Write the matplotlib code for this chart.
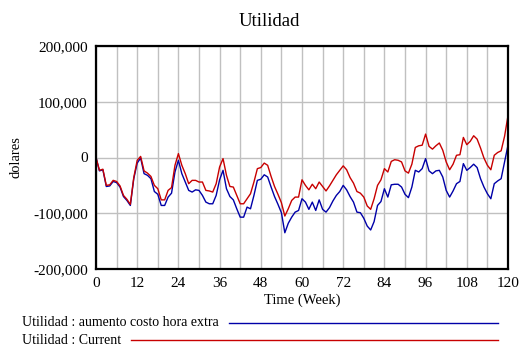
import matplotlib
matplotlib.use("Agg")
import matplotlib.pyplot as plt
from matplotlib.lines import Line2D
from matplotlib.ticker import FuncFormatter, MultipleLocator

# datos (miles de dolares, semana 0..120)
weeks = list(range(121))
aumento_costo = [
    0, -24, -22, -52, -51, -43, -45, -53, -70, -77,
    -86, -38, -10, -1, -29, -32, -38, -61, -66, -86,
    -86, -71, -64, -26, -5, -29, -44, -59, -62, -58,
    -59, -68, -80, -83, -83, -68, -40, -23, -56, -70,
    -76, -92, -107, -107, -89, -92, -68, -41, -39, -31,
    -35, -53, -70, -84, -99, -135, -118, -107, -98, -95,
    -74, -80, -93, -80, -95, -76, -93, -98, -90, -78,
    -68, -61, -50, -58, -70, -80, -98, -99, -109, -123,
    -130, -115, -86, -79, -56, -71, -49, -48, -48, -53,
    -66, -72, -53, -23, -26, -20, -2, -24, -29, -24,
    -23, -35, -59, -71, -60, -47, -43, -11, -23, -18,
    -12, -18, -38, -53, -65, -74, -47, -42, -38, -8,
    22,
]
current = [
    0, -23, -21, -50, -49, -41, -43, -51, -68, -75,
    -84, -36, -5, 2, -24, -28, -34, -50, -56, -76,
    -76, -59, -54, -14, 7, -14, -29, -47, -41, -41,
    -44, -44, -59, -60, -62, -47, -17, -2, -32, -52,
    -53, -68, -83, -83, -74, -65, -44, -20, -18, -10,
    -14, -34, -52, -66, -81, -105, -92, -77, -71, -71,
    -40, -50, -58, -48, -56, -44, -52, -60, -51, -41,
    -31, -23, -15, -22, -36, -46, -61, -64, -71, -87,
    -93, -74, -50, -40, -20, -26, -7, -4, -5, -8,
    -24, -28, -12, 18, 21, 22, 42, 20, 15, 21,
    26, 13, -8, -22, -12, 4, 5, 36, 23, 29,
    39, 33, 17, -1, -14, -22, 4, 9, 12, 38,
    75,
]
aumento_costo = [v * 1000 for v in aumento_costo]
current = [v * 1000 for v in current]

azul = "#0000a8"
rojo = "#c80000"

plt.rcParams["font.family"] = ["Liberation Serif", "DejaVu Serif"]

fig = plt.figure(figsize=(5.25, 3.59), dpi=100)
ax = fig.add_axes([96 / 525, 1 - 269 / 359, 412 / 525, 223 / 359])

ax.plot(weeks, aumento_costo, color=azul, lw=1.0)
ax.plot(weeks, current, color=rojo, lw=1.0)

ax.set_xlim(0, 120)
ax.set_ylim(-200000, 200000)
ax.xaxis.set_major_locator(MultipleLocator(12))
ax.xaxis.set_minor_locator(MultipleLocator(6))
ax.yaxis.set_major_locator(MultipleLocator(100000))
ax.yaxis.set_major_formatter(FuncFormatter(lambda v, p: f"{int(v):,}"))
ax.grid(True, which="both", axis="x", color="#c0c0c0", lw=1.0)
ax.grid(True, which="major", axis="y", color="#c0c0c0", lw=1.0)
ax.set_axisbelow(True)
ax.tick_params(which="both", length=0, labelsize=11, pad=6)
for s in ax.spines.values():
    s.set_color("black")
    s.set_linewidth(1.6)

fig.text(269 / 525, 1 - 22 / 359, "Utilidad", fontsize=13.5, ha="center", va="center")
ax.set_xlabel("Time (Week)", fontsize=10.5, labelpad=2)
fig.text(16 / 525, 1 - 157 / 359, "dolares", fontsize=10.5, rotation=90, ha="center", va="center")

# leyenda estilo Vensim debajo del grafico
fig.text(22 / 525, 1 - 323 / 359, "Utilidad : aumento costo hora extra", fontsize=10, va="center")
fig.text(22 / 525, 1 - 340 / 359, "Utilidad : Current", fontsize=10, va="center")
fig.add_artist(Line2D([229 / 525, 498 / 525], [1 - 323 / 359] * 2, color=azul, lw=1.0))
fig.add_artist(Line2D([131 / 525, 498 / 525], [1 - 340 / 359] * 2, color=rojo, lw=1.0))

fig.savefig("out.png", dpi=100)
